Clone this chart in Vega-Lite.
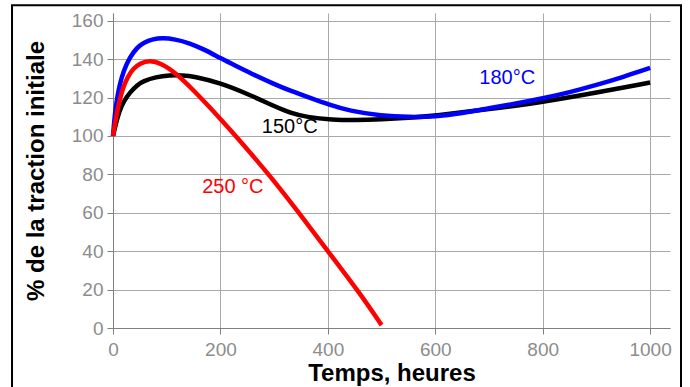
{
  "$schema": "https://vega.github.io/schema/vega-lite/v6.json",
  "width": 557,
  "height": 315,
  "autosize": {"type": "none"},
  "padding": {"left": 113, "top": 13, "right": 20, "bottom": 59},
  "background": "white",
  "config": {
    "view": {"stroke": null},
    "font": "Liberation Sans",
    "axis": {
      "grid": true,
      "gridColor": "#a8a8a8",
      "gridWidth": 1,
      "domainColor": "#808080",
      "tickColor": "#808080",
      "tickSize": 6,
      "labelFont": "Liberation Sans",
      "labelFontSize": 19,
      "labelColor": "#8c8c8c",
      "titleFont": "Liberation Sans",
      "titleFontSize": 24,
      "titleFontWeight": "bold",
      "titleColor": "#000000"
    }
  },
  "datasets": {
    "curves": [
      {"serie": "150", "t": 0, "v": 100},
      {"serie": "150", "t": 6, "v": 107},
      {"serie": "150", "t": 12, "v": 113},
      {"serie": "150", "t": 20, "v": 118},
      {"serie": "150", "t": 31, "v": 122.5},
      {"serie": "150", "t": 45, "v": 126.5},
      {"serie": "150", "t": 56, "v": 128.5},
      {"serie": "150", "t": 80, "v": 130.7},
      {"serie": "150", "t": 105, "v": 131.6},
      {"serie": "150", "t": 130, "v": 131.6},
      {"serie": "150", "t": 150, "v": 131},
      {"serie": "150", "t": 199, "v": 127.7},
      {"serie": "150", "t": 254, "v": 121.5},
      {"serie": "150", "t": 304, "v": 115},
      {"serie": "150", "t": 330, "v": 112},
      {"serie": "150", "t": 360, "v": 109.8},
      {"serie": "150", "t": 409, "v": 108.4},
      {"serie": "150", "t": 450, "v": 108.2},
      {"serie": "150", "t": 500, "v": 108.6},
      {"serie": "150", "t": 550, "v": 109.4},
      {"serie": "150", "t": 600, "v": 110.6},
      {"serie": "150", "t": 700, "v": 113.9},
      {"serie": "150", "t": 800, "v": 117.6},
      {"serie": "150", "t": 900, "v": 122.5},
      {"serie": "150", "t": 1000, "v": 127.8},
      {"serie": "180", "t": 0, "v": 100},
      {"serie": "180", "t": 3, "v": 110},
      {"serie": "180", "t": 6, "v": 117},
      {"serie": "180", "t": 12, "v": 126.5},
      {"serie": "180", "t": 20, "v": 134},
      {"serie": "180", "t": 31, "v": 141},
      {"serie": "180", "t": 45, "v": 146},
      {"serie": "180", "t": 56, "v": 148.5},
      {"serie": "180", "t": 75, "v": 150.5},
      {"serie": "180", "t": 92, "v": 151},
      {"serie": "180", "t": 115, "v": 150.4},
      {"serie": "180", "t": 143, "v": 148.3},
      {"serie": "180", "t": 170, "v": 145},
      {"serie": "180", "t": 200, "v": 140.5},
      {"serie": "180", "t": 230, "v": 136.3},
      {"serie": "180", "t": 255, "v": 132.8},
      {"serie": "180", "t": 300, "v": 127},
      {"serie": "180", "t": 330, "v": 123.5},
      {"serie": "180", "t": 370, "v": 119.5},
      {"serie": "180", "t": 400, "v": 116.5},
      {"serie": "180", "t": 440, "v": 113},
      {"serie": "180", "t": 500, "v": 110.5},
      {"serie": "180", "t": 550, "v": 109.8},
      {"serie": "180", "t": 600, "v": 110},
      {"serie": "180", "t": 650, "v": 111.8},
      {"serie": "180", "t": 700, "v": 114.4},
      {"serie": "180", "t": 750, "v": 116.8},
      {"serie": "180", "t": 800, "v": 119.5},
      {"serie": "180", "t": 850, "v": 122.7},
      {"serie": "180", "t": 900, "v": 126.5},
      {"serie": "180", "t": 950, "v": 130.7},
      {"serie": "180", "t": 1000, "v": 135.4},
      {"serie": "250", "t": 0, "v": 100},
      {"serie": "250", "t": 6, "v": 110},
      {"serie": "250", "t": 12, "v": 118.5},
      {"serie": "250", "t": 19, "v": 125.5},
      {"serie": "250", "t": 28, "v": 131},
      {"serie": "250", "t": 37, "v": 134.8},
      {"serie": "250", "t": 50, "v": 137.8},
      {"serie": "250", "t": 68, "v": 139.4},
      {"serie": "250", "t": 90, "v": 137.8},
      {"serie": "250", "t": 118, "v": 132.5},
      {"serie": "250", "t": 149, "v": 124},
      {"serie": "250", "t": 180, "v": 115},
      {"serie": "250", "t": 200, "v": 108.8},
      {"serie": "250", "t": 230, "v": 99.5},
      {"serie": "250", "t": 267, "v": 87.5},
      {"serie": "250", "t": 300, "v": 76.5},
      {"serie": "250", "t": 342, "v": 61.5},
      {"serie": "250", "t": 400, "v": 40},
      {"serie": "250", "t": 460, "v": 18},
      {"serie": "250", "t": 500, "v": 1.5}
    ],
    "labels": [
      {"serie": "150", "t": 277, "v": 101.3, "txt": "150°C"},
      {"serie": "180", "t": 682, "v": 126.8, "txt": "180°C"},
      {"serie": "250", "t": 166, "v": 70.3, "txt": "250 °C"}
    ]
  },
  "layer": [
    {
      "data": {"values": [{}]},
      "mark": {"type": "rect", "filled": false, "fill": null, "stroke": "#000000", "strokeWidth": 2, "clip": false},
      "encoding": {
        "x": {"datum": -188, "type": "quantitative", "title": "Temps, heures",
          "scale": {"domain": [0, 1037], "nice": false, "zero": false},
          "axis": {"values": [0, 200, 400, 600, 800, 1000], "format": "d", "labelPadding": 6, "titlePadding": 2, "labelFlush": false}},
        "x2": {"datum": 1057.5},
        "y": {"datum": 168.1, "type": "quantitative", "title": "% de la traction initiale",
          "scale": {"domain": [0, 164], "nice": false, "zero": false},
          "axis": {"values": [0, 20, 40, 60, 80, 100, 120, 140, 160], "labelPadding": 4, "titlePadding": 23}},
        "y2": {"datum": -40}
      }
    },
    {
      "data": {"name": "curves"},
      "mark": {"type": "line", "strokeWidth": 4.5, "interpolate": "basis", "clip": false},
      "encoding": {
        "x": {"field": "t", "type": "quantitative", "title": "Temps, heures",
          "axis": {"values": [0, 200, 400, 600, 800, 1000], "format": "d", "labelPadding": 6, "titlePadding": 2, "labelFlush": false}},
        "y": {"field": "v", "type": "quantitative", "title": "% de la traction initiale",
          "axis": {"values": [0, 20, 40, 60, 80, 100, 120, 140, 160], "labelPadding": 4, "titlePadding": 23}},
        "color": {
          "field": "serie", "type": "nominal",
          "scale": {"domain": ["150", "180", "250"], "range": ["#000000", "#0000ff", "#ff0000"]},
          "legend": null
        }
      }
    },
    {
      "data": {"name": "labels"},
      "mark": {"type": "text", "align": "left", "baseline": "alphabetic", "fontSize": 20, "font": "Liberation Sans"},
      "encoding": {
        "x": {"field": "t", "type": "quantitative", "title": "Temps, heures",
          "axis": {"values": [0, 200, 400, 600, 800, 1000], "format": "d", "labelPadding": 6, "titlePadding": 2, "labelFlush": false}},
        "y": {"field": "v", "type": "quantitative", "title": "% de la traction initiale",
          "axis": {"values": [0, 20, 40, 60, 80, 100, 120, 140, 160], "labelPadding": 4, "titlePadding": 23}},
        "text": {"field": "txt"},
        "color": {"field": "serie", "type": "nominal", "legend": null}
      }
    }
  ]
}
